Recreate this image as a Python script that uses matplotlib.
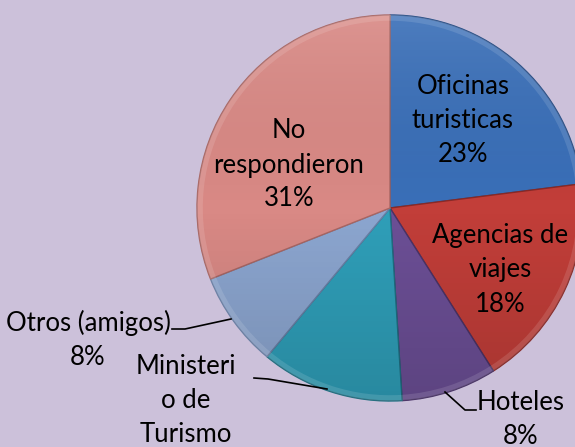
import matplotlib
matplotlib.use('Agg')
import matplotlib.pyplot as plt
import numpy as np
from matplotlib.patches import Wedge, Circle

# data (clockwise from 12 o'clock)
labels = ['Oficinas\nturisticas', 'Agencias de\nviajes', 'Hoteles',
          'Ministeri\no de\nTurismo', 'Otros (amigos)', 'No\nrespondieron']
values = [23, 18, 8, 12, 8, 31]
colors = ['#3a6fb8', '#c23e39', '#6c4f96', '#2f9fb9', '#8ca6d0', '#d98985']
edge_colors = ['#264d85', '#8a2926', '#4a3368', '#1f6f82', '#6a80a6', '#a86663']

W, H = 575, 447
CX, CY, R = 390, 208, 193  # pie centre and radius in pixels


def px(x, y):
    # pixel position (from top-left) -> data coordinates
    return (x - CX) / R, (CY - y) / R


fig = plt.figure(figsize=(W / 100, H / 100), dpi=100)
fig.patch.set_facecolor('#ccc1da')
ax = fig.add_axes([0, 0, 1, 1])

wedges, _ = ax.pie(values, startangle=90, counterclock=False, colors=colors,
                   radius=1, center=(0, 0), frame=True,
                   wedgeprops=dict(linewidth=1.0))
for w, ec in zip(wedges, edge_colors):
    w.set_edgecolor(ec)
ax.set_xlim(-CX / R, (W - CX) / R)
ax.set_ylim(-(H - CY) / R, CY / R)
ax.set_aspect('equal')
ax.axis('off')

# soft lighting: lighter top, darker bottom, plus a bevel ring
grad = np.linspace(0, 1, 256).reshape(-1, 1)
cmap = matplotlib.colors.LinearSegmentedColormap.from_list(
    'shade', [(0, 0, 0, 0.14), (0, 0, 0, 0.0), (1, 1, 1, 0.10)])
im = ax.imshow(grad, extent=(-1, 1, -1, 1), cmap=cmap, origin='lower',
               aspect='auto', zorder=3)
im.set_clip_path(Circle((0, 0), 1, transform=ax.transData))
theta1 = 90
for v in values:
    theta0 = theta1 - v * 3.6
    ring = Wedge((0, 0), 1, theta0, theta1, width=0.03,
                 facecolor='white', alpha=0.12, edgecolor='none', zorder=4)
    ax.add_patch(ring)
    theta1 = theta0

font = dict(family='Lato', fontsize=18.5, color='black', ha='center',
            va='center', linespacing=1.45, zorder=6)

pcts = ['%d%%' % v for v in values]
# label centres in pixels
inside = {0: (463, 120), 1: (500, 270), 5: (289, 165)}
for i, (x, y) in inside.items():
    ax.text(*px(x, y), labels[i] + '\n' + pcts[i], **font)

ax.text(*px(521, 419), labels[2] + '\n' + pcts[2], **font)
ax.text(*px(88, 340), labels[4] + '\n' + pcts[4], **font)
# the percentage of this label falls below the picture edge in the original
ax.text(*px(186, 400), labels[3], **font)

leaders = [
    [(172, 329), (185, 329), (231, 319)],
    [(254, 378), (268, 379), (327, 389)],
    [(445, 392), (465, 410), (476, 410)],
]
for pts in leaders:
    xs, ys = zip(*[px(x, y) for x, y in pts])
    ax.plot(xs, ys, color='black', linewidth=1.2, zorder=6)

fig.savefig('out.png', dpi=100, facecolor=fig.get_facecolor())
